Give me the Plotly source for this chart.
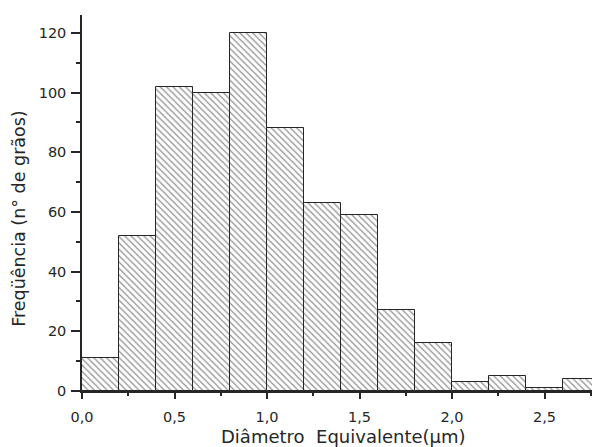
import plotly.graph_objects as go

bin_centers = [0.1, 0.3, 0.5, 0.7, 0.9, 1.1, 1.3, 1.5, 1.7, 1.9, 2.1, 2.3, 2.5, 2.7]
counts = [11, 52, 102, 100, 120, 88, 63, 59, 27, 16, 3, 5, 1, 4]
bin_width = 0.2
x_tick_vals = [0.0, 0.5, 1.0, 1.5, 2.0, 2.5]
y_tick_vals = [0, 20, 40, 60, 80, 100, 120]
x_title = "Diâmetro  Equivalente(µm)"
y_title = "Freqüência (n° de grãos)"

ink = "#262626"
font_family = "DejaVu Sans, Liberation Sans, sans-serif"

fig = go.Figure()
fig.add_trace(go.Bar(
    x=bin_centers,
    y=counts,
    width=[bin_width] * len(bin_centers),
    marker=dict(
        color="white",
        line=dict(color=ink, width=1),
        pattern=dict(shape="\\", fgcolor="#2e2e2e", bgcolor="white", size=4.5, solidity=0.3),
    ),
))

# the page body adds an 8px offset, so the figure is sized to the visible area
fig.update_layout(
    width=592, height=439,
    margin=dict(l=74, r=0, t=7, b=56, autoexpand=False),
    paper_bgcolor="white", plot_bgcolor="white",
    separators=",.",
    bargap=0,
    showlegend=False,
    font=dict(family=font_family, color=ink),
    annotations=[
        dict(text=x_title, xref="paper", yref="paper", x=0.505, y=-0.122,
             xanchor="center", yanchor="middle", showarrow=False,
             font=dict(size=18, family=font_family, color=ink)),
        dict(text=y_title, xref="paper", yref="paper", x=-0.122, y=0.46,
             xanchor="center", yanchor="middle", showarrow=False, textangle=-90,
             font=dict(size=17.5, family=font_family, color=ink)),
    ],
)
fig.update_xaxes(
    range=[0, 2.8], automargin=False,
    tickvals=x_tick_vals, tickformat=".1f",
    ticks="outside", ticklen=6, tickwidth=1.5, tickcolor=ink, ticklabelstandoff=6,
    minor=dict(tickvals=[0.25, 0.75, 1.25, 1.75, 2.25, 2.75], ticks="outside", ticklen=3, tickcolor=ink),
    showline=True, linecolor=ink, linewidth=1.5,
    showgrid=False, zeroline=False,
    tickfont=dict(size=14.5, family=font_family, color=ink),
)
fig.update_yaxes(
    range=[0, 126], automargin=False,
    tickvals=y_tick_vals,
    ticks="outside", ticklen=9, tickwidth=1.5, tickcolor=ink, ticklabelstandoff=2,
    minor=dict(tickvals=[10, 30, 50, 70, 90, 110], ticks="outside", ticklen=4, tickcolor=ink),
    showline=True, linecolor=ink, linewidth=1.5,
    showgrid=False, zeroline=False,
    tickfont=dict(size=14.5, family=font_family, color=ink),
)

fig.write_html("out.html")
